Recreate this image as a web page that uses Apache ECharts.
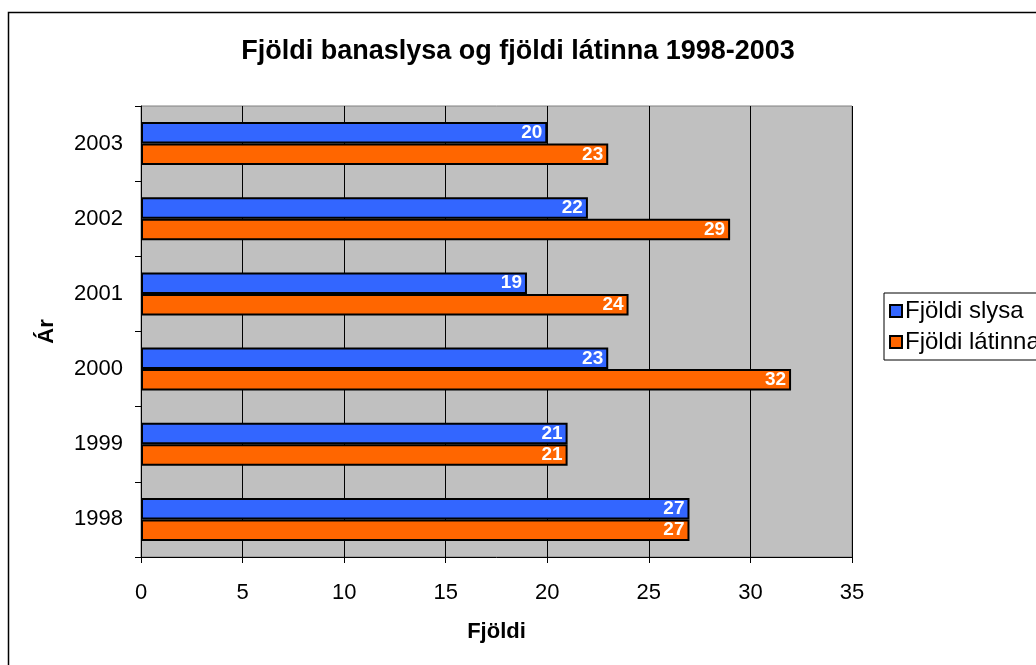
<!DOCTYPE html>
<html>
<head>
<meta charset="utf-8">
<script src="https://cdn.jsdelivr.net/npm/echarts@6/dist/echarts.min.js"></script>
<style>
  html, body { margin: 0; padding: 0; background: #fff; }
  #main { width: 1036px; height: 665px; }
</style>
</head>
<body>
<div id="main"></div>
<script>
// gögn
var years = ['1998', '1999', '2000', '2001', '2002', '2003'];
var slysa = [27, 21, 23, 19, 22, 20];
var latinna = [27, 21, 32, 24, 29, 23];
var xTicks = [0, 5, 10, 15, 20, 25, 30, 35];

var font = 'Arial, "Liberation Sans", sans-serif';

var chart = echarts.init(document.getElementById('main'));

var barLabel = {
  show: true,
  position: 'insideRight',
  distance: 5,
  color: '#fff',
  fontWeight: 'bold',
  fontSize: 19,
  fontFamily: font
};

chart.setOption({
  animation: false,
  backgroundColor: '#fff',
  title: {
    text: 'Fjöldi banaslysa og fjöldi látinna 1998-2003',
    left: 'center',
    top: 33,
    textStyle: { fontSize: 27, fontWeight: 'bold', color: '#000', fontFamily: font }
  },
  graphic: [{
    type: 'rect',
    shape: { x: 8.5, y: 12.5, width: 1100, height: 700 },
    style: { fill: 'none', stroke: '#000', lineWidth: 1.5 },
    silent: true
  }],
  legend: {
    orient: 'vertical',
    left: 884,
    top: 293,
    data: ['Fjöldi slysa', 'Fjöldi látinna'],
    icon: 'rect',
    itemWidth: 12,
    itemHeight: 12,
    itemGap: 7,
    padding: [6, 40, 6, 5],
    borderColor: '#000',
    borderWidth: 1,
    textStyle: { fontSize: 24, color: '#000', fontFamily: font, padding: [0, 0, 0, -2] }
  },
  grid: {
    left: 141,
    right: 184,
    top: 106,
    bottom: 108,
    show: true,
    backgroundColor: '#c0c0c0',
    borderColor: '#808080',
    borderWidth: 1
  },
  xAxis: {
    type: 'value',
    min: xTicks[0],
    max: xTicks[xTicks.length - 1],
    interval: 5,
    name: 'Fjöldi',
    nameLocation: 'middle',
    nameGap: 64,
    nameTextStyle: { fontSize: 22, fontWeight: 'bold', color: '#000', fontFamily: font },
    axisLine: { show: true, lineStyle: { color: '#000', width: 1 } },
    axisTick: { show: true, length: 6, lineStyle: { color: '#000' } },
    axisLabel: { fontSize: 22, color: '#000', margin: 25, fontFamily: font },
    splitLine: { show: true, lineStyle: { color: '#000', width: 1 } }
  },
  yAxis: {
    type: 'category',
    data: years,
    name: 'Ár',
    nameLocation: 'middle',
    nameGap: 83,
    nameRotate: 90,
    nameTextStyle: { fontSize: 22, fontWeight: 'bold', color: '#000', fontFamily: font },
    axisLine: { show: true, lineStyle: { color: '#000', width: 1 } },
    axisTick: { show: true, length: 6, lineStyle: { color: '#000' } },
    axisLabel: { fontSize: 22, color: '#000', margin: 18, fontFamily: font },
    splitLine: { show: false }
  },
  series: [
    {
      name: 'Fjöldi slysa',
      type: 'bar',
      data: slysa,
      barWidth: 21.5,
      barGap: '0%',
      itemStyle: { color: '#3366ff', borderColor: '#000', borderWidth: 2 },
      label: barLabel
    },
    {
      name: 'Fjöldi látinna',
      type: 'bar',
      data: latinna,
      barWidth: 21.5,
      barGap: '0%',
      itemStyle: { color: '#ff6600', borderColor: '#000', borderWidth: 2 },
      label: barLabel
    }
  ]
});
</script>
</body>
</html>
